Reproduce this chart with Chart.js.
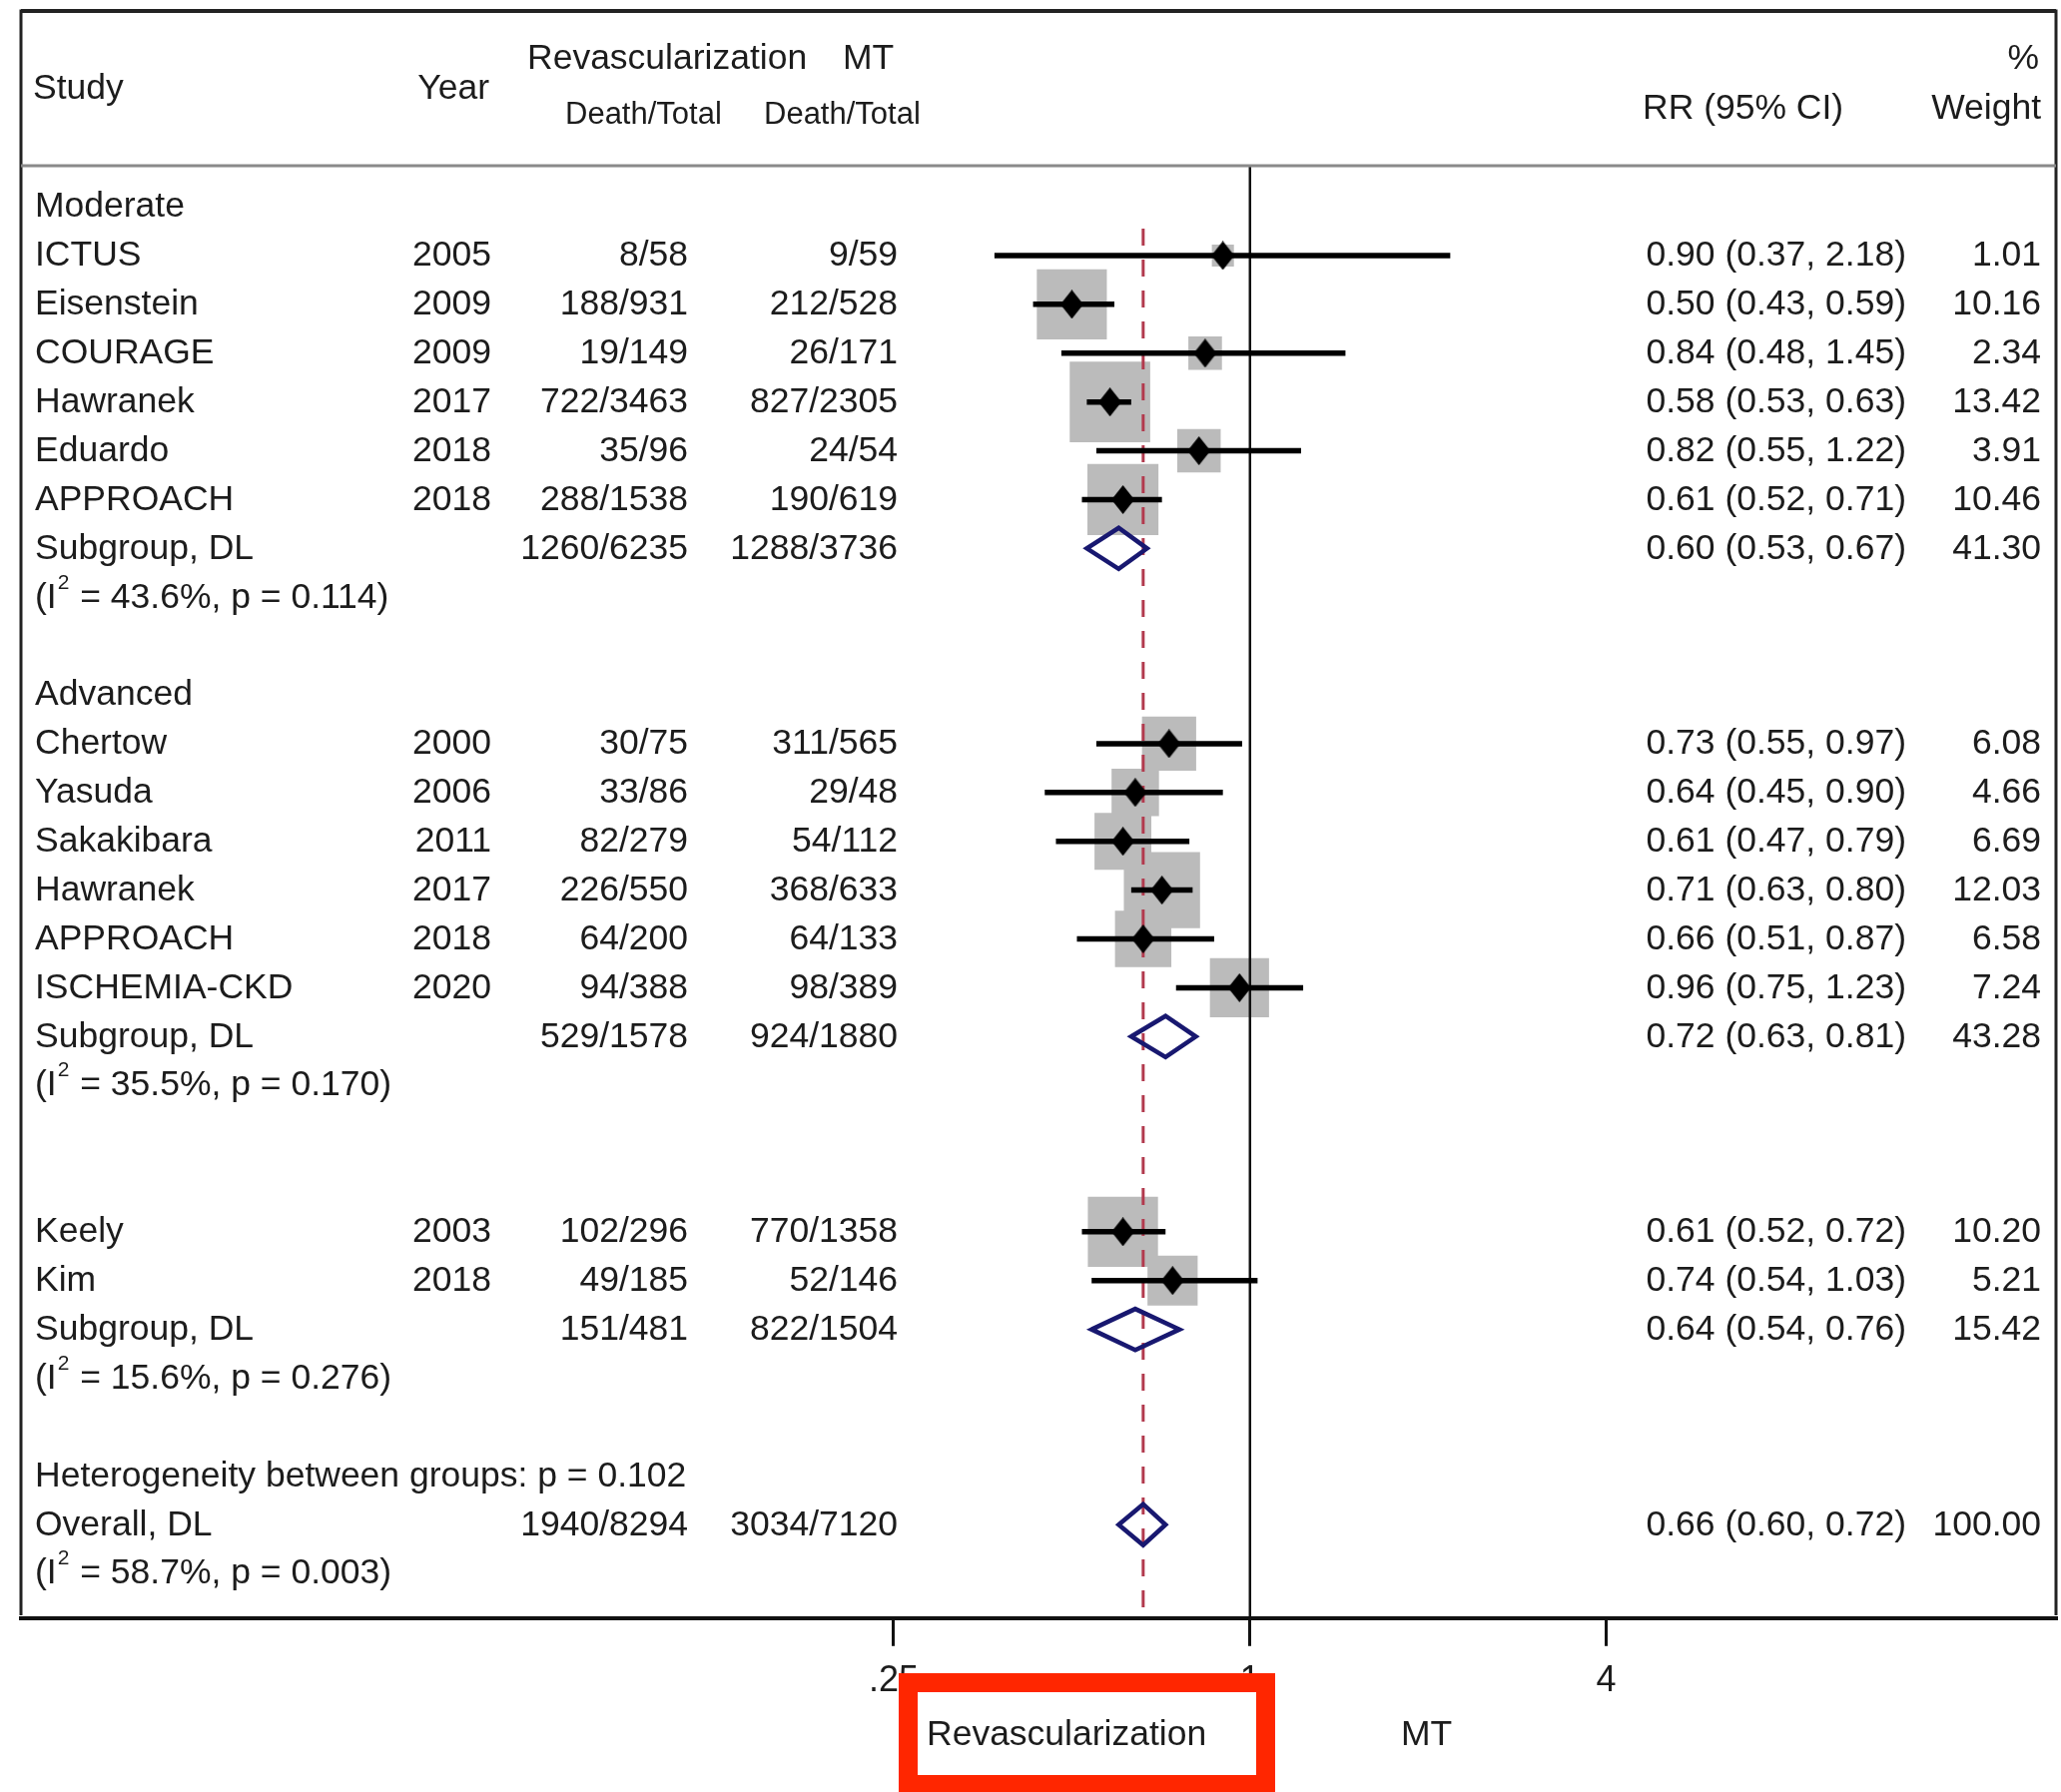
<!DOCTYPE html>
<html>
<head>
<meta charset="utf-8">
<title>Forest plot: revascularization vs MT</title>
<style>
  html, body { margin: 0; padding: 0; background: #fff; }
  #wrap { width: 2064px; height: 1795px; }
  canvas { display: block; }
</style>
<script src="https://cdn.jsdelivr.net/npm/chart.js@4/dist/chart.umd.min.js"></script>
</head>
<body>
<div id="wrap"><canvas id="forest" width="2064" height="1795"></canvas></div>
<script>
// ---------------- data ----------------
const groupLabels = ['Moderate', 'Advanced'];
const groupRows = [0, 10];

const studyNames = ['ICTUS', 'Eisenstein', 'COURAGE', 'Hawranek', 'Eduardo', 'APPROACH',
  'Chertow', 'Yasuda', 'Sakakibara', 'Hawranek', 'APPROACH', 'ISCHEMIA-CKD',
  'Keely', 'Kim'];
const studyRows = [1, 2, 3, 4, 5, 6, 11, 12, 13, 14, 15, 16, 21, 22];
const studyYears = [2005, 2009, 2009, 2017, 2018, 2018, 2000, 2006, 2011, 2017, 2018, 2020, 2003, 2018];
const revascDeaths = [8, 188, 19, 722, 35, 288, 30, 33, 82, 226, 64, 94, 102, 49];
const revascTotals = [58, 931, 149, 3463, 96, 1538, 75, 86, 279, 550, 200, 388, 296, 185];
const mtDeaths = [9, 212, 26, 827, 24, 190, 311, 29, 54, 368, 64, 98, 770, 52];
const mtTotals = [59, 528, 171, 2305, 54, 619, 565, 48, 112, 633, 133, 389, 1358, 146];
const studyRR = [0.90, 0.50, 0.84, 0.58, 0.82, 0.61, 0.73, 0.64, 0.61, 0.71, 0.66, 0.96, 0.61, 0.74];
const studyLow = [0.37, 0.43, 0.48, 0.53, 0.55, 0.52, 0.55, 0.45, 0.47, 0.63, 0.51, 0.75, 0.52, 0.54];
const studyHigh = [2.18, 0.59, 1.45, 0.63, 1.22, 0.71, 0.97, 0.90, 0.79, 0.80, 0.87, 1.23, 0.72, 1.03];
const studyWeight = [1.01, 10.16, 2.34, 13.42, 3.91, 10.46, 6.08, 4.66, 6.69, 12.03, 6.58, 7.24, 10.20, 5.21];

const pooledLabels = ['Subgroup, DL', 'Subgroup, DL', 'Subgroup, DL', 'Overall, DL'];
const pooledRows = [7, 17, 23, 27];
const pooledRevascDeaths = [1260, 529, 151, 1940];
const pooledRevascTotals = [6235, 1578, 481, 8294];
const pooledMtDeaths = [1288, 924, 822, 3034];
const pooledMtTotals = [3736, 1880, 1504, 7120];
const pooledRR = [0.60, 0.72, 0.64, 0.66];
const pooledLow = [0.53, 0.63, 0.54, 0.60];
const pooledHigh = [0.67, 0.81, 0.76, 0.72];
const pooledWeight = [41.30, 43.28, 15.42, 100.00];
const pooledI2 = [43.6, 35.5, 15.6, 58.7];
const pooledP = [0.114, 0.170, 0.276, 0.003];

const betweenGroupsP = 0.102;
const betweenGroupsRow = 26;

const xTicks = [0.25, 1, 4];
const xTickLabels = ['.25', '1', '4'];

// ---------------- layout & style ----------------
const FONT = "'Liberation Sans', Arial, Helvetica, sans-serif";
const FS = 35.5;
const TEXT_DY = 0.5;
const TEXT = '#1c1c1c';
const FRAME = { left: 21, right: 2059, top: 11, bottom: 1618 };
const HEADER_LINE_Y = 167;
const ROW_MIN = -0.8197, ROW_MAX = 28.914;
const X_MIN = Math.pow(2, -6.899), X_MAX = Math.pow(2, 4.5247);
const COL = { study: 35, yearR: 492, revR: 689, mtR: 899, ciR: 1909, wtR: 2044 };
const BOX_SIDE_PER_SQRT_W = 22;
const DIAMOND_HALF = 0.42;
const OVERALL_LINE_TOP = 0.45;
const GREY = 'rgb(187,187,187)';
const NAVY = 'rgb(24,24,112)';
const MAROON = 'rgb(178,58,78)';

const ratio = (v) => v.toFixed(2);
const ciText = (r, lo, hi) => `${ratio(r)} (${ratio(lo)}, ${ratio(hi)})`;

// small upright diamond used as the point-estimate marker
function makeDiamond(w, h) {
  const c = document.createElement('canvas');
  c.width = w; c.height = h;
  const g = c.getContext('2d');
  g.fillStyle = '#000';
  g.beginPath();
  g.moveTo(w / 2, 0); g.lineTo(w, h / 2); g.lineTo(w / 2, h); g.lineTo(0, h / 2);
  g.closePath();
  g.fill();
  return c;
}
const estimateMarker = makeDiamond(23, 29);

// ---------------- datasets ----------------
const boxPoints = studyRR.map((v, i) => ({ x: v, y: studyRows[i] }));
const ciSegments = [];
studyRows.forEach((r, i) => {
  ciSegments.push({ x: studyLow[i], y: r }, { x: studyHigh[i], y: r }, { x: studyHigh[i], y: null });
});

const pooledDiamonds = pooledRR.map((v, i) => {
  const r = pooledRows[i];
  const lo = pooledLow[i], hi = pooledHigh[i];
  return {
    type: 'line',
    order: 0,
    data: [
      { x: lo, y: r }, { x: v, y: r - DIAMOND_HALF }, { x: hi, y: r },
      { x: v, y: r + DIAMOND_HALF }, { x: lo, y: r }, { x: v, y: r - DIAMOND_HALF }
    ],
    borderColor: NAVY,
    borderWidth: 4.5,
    borderJoinStyle: 'miter',
    pointRadius: 0,
    fill: false,
    tension: 0
  };
});

const datasets = [
  {
    type: 'scatter',
    order: 5,
    data: boxPoints,
    pointStyle: 'rect',
    backgroundColor: GREY,
    borderWidth: 0,
    pointRadius: (c) => BOX_SIDE_PER_SQRT_W * Math.sqrt(studyWeight[c.dataIndex]) / Math.SQRT2
  },
  {
    type: 'line',
    order: 4,
    data: [{ x: 1, y: ROW_MIN }, { x: 1, y: ROW_MAX }],
    borderColor: '#111',
    borderWidth: 2.5,
    pointRadius: 0
  },
  {
    type: 'line',
    order: 3,
    data: [{ x: pooledRR[3], y: OVERALL_LINE_TOP }, { x: pooledRR[3], y: ROW_MAX }],
    borderColor: MAROON,
    borderWidth: 3,
    borderDash: [17, 14],
    pointRadius: 0
  },
  {
    type: 'line',
    order: 2,
    data: ciSegments,
    borderColor: '#000',
    borderWidth: 5.5,
    borderCapStyle: 'butt',
    spanGaps: false,
    pointRadius: 0
  },
  {
    type: 'scatter',
    order: 1,
    data: boxPoints,
    pointStyle: estimateMarker,
    pointRadius: 12
  },
  ...pooledDiamonds
];

// ---------------- table text, frame and annotation ----------------
function put(ctx, s, x, y, align, size) {
  ctx.font = `${size || FS}px ${FONT}`;
  ctx.textAlign = align || 'left';
  ctx.fillText(s, x, y + TEXT_DY);
}

function heterogeneity(ctx, x, y, i2, p) {
  y += TEXT_DY;
  ctx.textAlign = 'left';
  ctx.font = `${FS}px ${FONT}`;
  ctx.fillText('(I', x, y);
  const w1 = ctx.measureText('(I').width;
  ctx.font = `21px ${FONT}`;
  ctx.fillText('2', x + w1 + 1, y - 15);
  const w2 = ctx.measureText('2').width;
  ctx.font = `${FS}px ${FONT}`;
  ctx.fillText(` = ${i2.toFixed(1)}%, p = ${p.toFixed(3)})`, x + w1 + w2 + 2, y);
}

const tablePlugin = {
  id: 'forestTable',
  afterDraw(chart) {
    const ctx = chart.ctx;
    const ys = chart.scales.y;
    const rowY = (r) => ys.getPixelForValue(r);
    ctx.save();
    ctx.fillStyle = TEXT;
    ctx.textBaseline = 'middle';

    // header block
    put(ctx, 'Study', 33, 88.5);
    put(ctx, 'Year', 490, 88.5, 'right');
    put(ctx, 'Revascularization', 528, 58.5);
    put(ctx, 'MT', 844, 58.5);
    put(ctx, 'Death/Total', 566, 114.5, 'left', 31);
    put(ctx, 'Death/Total', 765, 114.5, 'left', 31);
    put(ctx, 'RR (95% CI)', 1645, 108.5);
    put(ctx, '%', 2042, 58.5, 'right');
    put(ctx, 'Weight', 2044, 108.5, 'right');

    // subgroup headings
    groupLabels.forEach((g, i) => put(ctx, g, COL.study, rowY(groupRows[i])));

    // individual studies
    studyNames.forEach((name, i) => {
      const y = rowY(studyRows[i]);
      put(ctx, name, COL.study, y);
      put(ctx, String(studyYears[i]), COL.yearR, y, 'right');
      put(ctx, `${revascDeaths[i]}/${revascTotals[i]}`, COL.revR, y, 'right');
      put(ctx, `${mtDeaths[i]}/${mtTotals[i]}`, COL.mtR, y, 'right');
      put(ctx, ciText(studyRR[i], studyLow[i], studyHigh[i]), COL.ciR, y, 'right');
      put(ctx, studyWeight[i].toFixed(2), COL.wtR, y, 'right');
    });

    // pooled estimates
    pooledLabels.forEach((name, i) => {
      const y = rowY(pooledRows[i]);
      put(ctx, name, COL.study, y);
      put(ctx, `${pooledRevascDeaths[i]}/${pooledRevascTotals[i]}`, COL.revR, y, 'right');
      put(ctx, `${pooledMtDeaths[i]}/${pooledMtTotals[i]}`, COL.mtR, y, 'right');
      put(ctx, ciText(pooledRR[i], pooledLow[i], pooledHigh[i]), COL.ciR, y, 'right');
      put(ctx, pooledWeight[i].toFixed(2), COL.wtR, y, 'right');
      heterogeneity(ctx, COL.study, rowY(pooledRows[i] + 1), pooledI2[i], pooledP[i]);
    });

    put(ctx, `Heterogeneity between groups: p = ${betweenGroupsP.toFixed(3)}`, COL.study, rowY(betweenGroupsRow));

    // frame
    ctx.strokeStyle = '#222';
    ctx.lineWidth = 3;
    ctx.beginPath();
    ctx.moveTo(FRAME.left, FRAME.bottom);
    ctx.lineTo(FRAME.left, FRAME.top);
    ctx.lineTo(FRAME.right, FRAME.top);
    ctx.lineTo(FRAME.right, FRAME.bottom);
    ctx.stroke();
    ctx.lineWidth = 4;
    ctx.beginPath();
    ctx.moveTo(FRAME.left, FRAME.top);
    ctx.lineTo(FRAME.right, FRAME.top);
    ctx.stroke();
    ctx.strokeStyle = '#8a8a8a';
    ctx.lineWidth = 3;
    ctx.beginPath();
    ctx.moveTo(FRAME.left, HEADER_LINE_Y - 1);
    ctx.lineTo(FRAME.right, HEADER_LINE_Y - 1);
    ctx.stroke();

    // highlighted favours label
    ctx.fillStyle = 'rgb(255,38,0)';
    ctx.fillRect(900, 1676, 377, 130);
    ctx.fillStyle = '#fff';
    ctx.fillRect(919, 1695, 339, 83);
    ctx.fillStyle = TEXT;
    put(ctx, 'Revascularization', 928, 1738);
    put(ctx, 'MT', 1403, 1738);
    ctx.restore();
  }
};

new Chart(document.getElementById('forest'), {
  type: 'scatter',
  data: { datasets },
  plugins: [tablePlugin],
  options: {
    responsive: false,
    devicePixelRatio: 1,
    animation: false,
    events: [],
    layout: {
      autoPadding: false,
      padding: { left: FRAME.left, right: 2064 - FRAME.right, top: HEADER_LINE_Y, bottom: 75 }
    },
    plugins: { legend: { display: false }, tooltip: { enabled: false } },
    scales: {
      x: {
        type: 'logarithmic',
        min: X_MIN,
        max: X_MAX,
        bounds: 'data',
        afterBuildTicks: (scale) => { scale.ticks = xTicks.map((v) => ({ value: v })); },
        ticks: {
          autoSkip: false,
          maxRotation: 0,
          padding: 14,
          color: TEXT,
          font: { family: FONT, size: 36 },
          callback: (v, i) => xTickLabels[i]
        },
        grid: { display: true, drawOnChartArea: false, drawTicks: true, tickLength: 28, lineWidth: 3, color: '#111' },
        border: { display: true, width: 4, color: '#111' }
      },
      y: {
        type: 'linear',
        reverse: true,
        min: ROW_MIN,
        max: ROW_MAX,
        bounds: 'data',
        display: false
      }
    }
  }
});
</script>
</body>
</html>
